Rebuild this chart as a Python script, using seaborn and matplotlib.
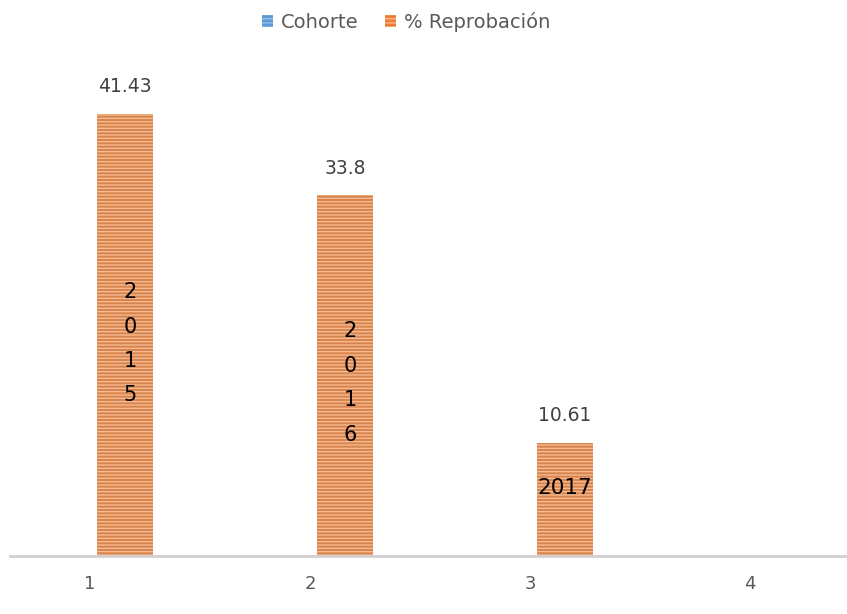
"""Bar chart: % Reprobación por cohorte (Excel-style hatched bars)."""

import matplotlib.pyplot as plt
import numpy as np
import pandas as pd
import seaborn as sns
from matplotlib.patches import Patch

sns.set_theme(style="white")
plt.rcParams["font.family"] = ["DejaVu Sans"]
plt.rcParams["hatch.linewidth"] = 0.9

# Data
categories = ["1", "2", "3", "4"]
reprobacion = [41.43, 33.8, 10.61, np.nan]
cohorte_labels = ["2015", "2016", "2017", ""]
series_names = ["Cohorte", "% Reprobación"]

blue = "#5B9BD5"
blue_hatch = "#9DC3E6"
orange = "#EE7F36"
orange_hatch = "#F8BE96"

df = pd.DataFrame({
    "categoria": categories * 2,
    "serie": [series_names[0]] * len(categories) + [series_names[1]] * len(categories),
    "valor": [0.0] * len(categories) + reprobacion,
})

fig = plt.figure(figsize=(8.47, 6.14), dpi=100)
ax = fig.add_axes([10 / 847, 58 / 614, 837 / 847, 480 / 614])

sns.barplot(data=df, x="categoria", y="valor", hue="serie", order=categories,
            hue_order=series_names, palette=[blue, orange], width=0.636, gap=0.2,
            linewidth=0, errorbar=None, legend=False, ax=ax)

# Excel-like horizontal stripe pattern
for cont, edge in zip(ax.containers, [blue_hatch, orange_hatch]):
    for bar in cont:
        bar.set_hatch("-----")
        bar.set_edgecolor(edge)
        bar.set_linewidth(0)

# value labels above the orange bars and cohort labels inside
for bar, val, lab in zip(ax.containers[1], reprobacion, cohorte_labels):
    if np.isnan(val):
        continue
    xc = bar.get_x() + bar.get_width() / 2
    ax.annotate(f"{val:g}", (xc, val), xytext=(0, 19.5), textcoords="offset points",
                ha="center", va="center", fontsize=13.5, color="#404040")
    if val > 20:
        ax.annotate("\n".join(lab), (xc, val * 0.48), xytext=(3.5, 0), textcoords="offset points",
                    ha="center", va="center", fontsize=15, color="black", linespacing=1.9)
    else:
        ax.annotate(lab, (xc, val * 0.6), ha="center", va="center", fontsize=15.5, color="black")

ax.set_xlim(-0.364, 3.44)
ax.set_ylim(0, 45)
ax.set_xlabel("")
ax.set_ylabel("")
ax.set_yticks([])
for side in ["top", "right", "left"]:
    ax.spines[side].set_visible(False)
ax.spines["bottom"].set_color("#d0d0d0")
ax.spines["bottom"].set_linewidth(2)
ax.tick_params(axis="x", length=0, pad=14, labelsize=13, labelcolor="#595959")

handles = [
    Patch(facecolor=blue, edgecolor=blue_hatch, hatch="----", linewidth=0, label=series_names[0]),
    Patch(facecolor=orange, edgecolor=orange_hatch, hatch="----", linewidth=0, label=series_names[1]),
]
fig.legend(handles=handles, loc="center", bbox_to_anchor=(406 / 847, 1 - 22 / 614), ncol=2,
           frameon=False, fontsize=14, labelcolor="#595959", handlelength=0.55, handleheight=0.55,
           handletextpad=0.4, columnspacing=1.4)

fig.savefig("out.png", dpi=100)
plt.close(fig)
